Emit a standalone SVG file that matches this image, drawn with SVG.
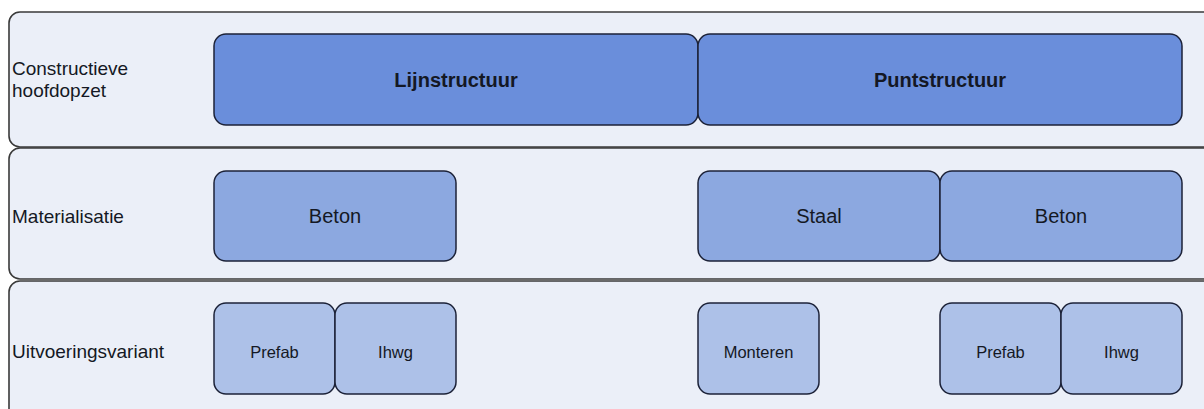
<svg xmlns="http://www.w3.org/2000/svg" width="1204" height="409" viewBox="0 0 1204 409">
<style>
.band{fill:#ebeff8;stroke:#3a3a3a;stroke-width:1.6}
.node rect{stroke:#1c2238;stroke-width:1.5}
.l1{fill:#6a8edb}
.l2{fill:#8ca8e0}
.l3{fill:#adc1e8}
text{font-family:"Liberation Sans",Arial,sans-serif;fill:#141824}
.lbl{font-size:19px}
.t1{font-size:20px;font-weight:bold;text-anchor:middle}
.t2{font-size:20px;text-anchor:middle}
.t3{font-size:16.5px;text-anchor:middle}
</style>
<rect width="1204" height="409" fill="#ffffff"/>
<g id="band1"><rect class="band" x="9" y="12" width="1220" height="135" rx="11"/><text class="lbl" x="12" y="75">Constructieve</text><text class="lbl" x="12" y="97">hoofdopzet</text></g>
<g id="band2"><rect class="band" x="9" y="148" width="1220" height="131" rx="11"/><text class="lbl" x="12" y="223">Materialisatie</text></g>
<g id="band3"><rect class="band" x="9" y="281" width="1220" height="150" rx="11"/><text class="lbl" x="12" y="358">Uitvoeringsvariant</text></g>
<g id="lijnstructuur" class="node"><rect class="l1" x="214" y="34" width="484" height="91" rx="12"/><text class="t1" x="456" y="87">Lijnstructuur</text></g>
<g id="puntstructuur" class="node"><rect class="l1" x="698" y="34" width="484" height="91" rx="12"/><text class="t1" x="940" y="87">Puntstructuur</text></g>
<g id="beton1" class="node"><rect class="l2" x="214" y="171" width="242" height="90" rx="12"/><text class="t2" x="335" y="223">Beton</text></g>
<g id="staal" class="node"><rect class="l2" x="698" y="171" width="242" height="90" rx="12"/><text class="t2" x="819" y="223">Staal</text></g>
<g id="beton2" class="node"><rect class="l2" x="940" y="171" width="242" height="90" rx="12"/><text class="t2" x="1061" y="223">Beton</text></g>
<g id="prefab1" class="node"><rect class="l3" x="214" y="303" width="121" height="91" rx="12"/><text class="t3" x="274.5" y="358">Prefab</text></g>
<g id="ihwg1" class="node"><rect class="l3" x="335" y="303" width="121" height="91" rx="12"/><text class="t3" x="395.5" y="358">Ihwg</text></g>
<g id="monteren" class="node"><rect class="l3" x="698" y="303" width="121" height="91" rx="12"/><text class="t3" x="758.5" y="358">Monteren</text></g>
<g id="prefab2" class="node"><rect class="l3" x="940" y="303" width="121" height="91" rx="12"/><text class="t3" x="1000.5" y="358">Prefab</text></g>
<g id="ihwg2" class="node"><rect class="l3" x="1061" y="303" width="121" height="91" rx="12"/><text class="t3" x="1121.5" y="358">Ihwg</text></g>
<g id="connectors"></g>
</svg>
